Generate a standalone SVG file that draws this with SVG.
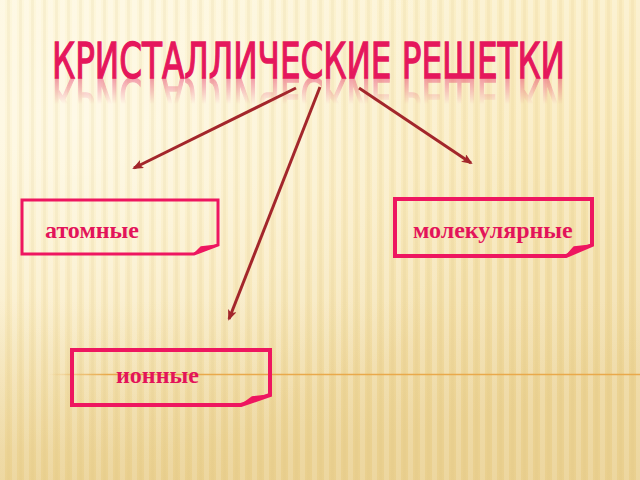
<svg xmlns="http://www.w3.org/2000/svg" width="640" height="480" viewBox="0 0 640 480">
  <style>
    .box { fill: none; stroke: #EE1660; stroke-linejoin: miter; }
    .fold { fill: #EE1660; stroke: #EE1660; stroke-width: 1.5; stroke-linejoin: round; }
    .label { font-family: "Liberation Serif", "Times New Roman", serif; font-weight: bold; font-size: 24px; fill: #E3145A; }
    .title { font-family: "DejaVu Sans Condensed", "DejaVu Sans", sans-serif; font-size: 50px; fill: #E5175C; stroke: #E5175C; stroke-width: 1.3; }
    .conn { stroke: #A3262B; stroke-width: 3; fill: none; marker-end: url(#arrow); }
  </style>
  <defs>
    <linearGradient id="bg" x1="0" y1="0" x2="0.3" y2="1">
      <stop offset="0" stop-color="#FCF3D0"/>
      <stop offset="0.5" stop-color="#F8E7B6"/>
      <stop offset="1" stop-color="#EDD597"/>
    </linearGradient>
    <radialGradient id="glow" cx="0.12" cy="0.25" r="0.7">
      <stop offset="0" stop-color="#FFFBEA" stop-opacity="0.7"/>
      <stop offset="1" stop-color="#FFFBEA" stop-opacity="0"/>
    </radialGradient>
    <linearGradient id="bottomShade" x1="0" y1="0" x2="0" y2="1">
      <stop offset="0" stop-color="#E3C57E" stop-opacity="0"/>
      <stop offset="1" stop-color="#E3C57E" stop-opacity="0.35"/>
    </linearGradient>
    <pattern id="stripes" width="12" height="480" patternUnits="userSpaceOnUse">
      <rect x="0" y="0" width="5" height="480" fill="#FFFFFF" opacity="0.25"/>
      <rect x="7" y="0" width="3" height="480" fill="#D9BE7A" opacity="0.12"/>
    </pattern>
    <linearGradient id="lineFade" x1="48" y1="0" x2="640" y2="0" gradientUnits="userSpaceOnUse">
      <stop offset="0" stop-color="#E9A94B" stop-opacity="0"/>
      <stop offset="0.1" stop-color="#E9A94B" stop-opacity="1"/>
      <stop offset="1" stop-color="#E9A94B" stop-opacity="1"/>
    </linearGradient>
    <linearGradient id="reflFade" x1="0" y1="78" x2="0" y2="104" gradientUnits="userSpaceOnUse">
      <stop offset="0" stop-color="#fff" stop-opacity="0.4"/>
      <stop offset="1" stop-color="#fff" stop-opacity="0"/>
    </linearGradient>
    <mask id="reflMask" maskUnits="userSpaceOnUse" x="0" y="70" width="640" height="40">
      <rect x="0" y="78" width="640" height="30" fill="url(#reflFade)"/>
    </mask>
    <marker id="arrow" markerWidth="11" markerHeight="9" refX="9" refY="4.5" orient="auto" markerUnits="userSpaceOnUse">
      <path d="M0,0 L11,4.5 L0,9 L2.5,4.5 Z" fill="#A3262B"/>
    </marker>
  </defs>

  <!-- background -->
  <rect x="0" y="0" width="640" height="480" fill="url(#bg)"/>
  <rect x="0" y="0" width="640" height="480" fill="url(#glow)"/>
  <rect x="0" y="0" width="640" height="480" fill="url(#stripes)"/>
  <rect x="0" y="300" width="640" height="180" fill="url(#bottomShade)"/>
  <line x1="48" y1="374.5" x2="640" y2="374.5" stroke="url(#lineFade)" stroke-width="1.3"/>

  <!-- title -->
  <g id="title">
    <text id="titleText" class="title" x="52" y="78" textLength="513" lengthAdjust="spacingAndGlyphs">КРИСТАЛЛИЧЕСКИЕ РЕШЕТКИ</text>
    <g mask="url(#reflMask)">
      <text class="title" x="52" y="78" textLength="513" lengthAdjust="spacingAndGlyphs" transform="translate(0,156) scale(1,-1)">КРИСТАЛЛИЧЕСКИЕ РЕШЕТКИ</text>
    </g>
  </g>

  <!-- connectors -->
  <g id="connectors">
    <line class="conn" x1="296" y1="88" x2="134" y2="168"/>
    <line class="conn" x1="320" y1="87" x2="229" y2="319"/>
    <line class="conn" x1="359" y1="88" x2="471" y2="163"/>
  </g>

  <!-- nodes -->
  <g id="node-atomic">
    <path class="box" stroke-width="3" d="M22,200 H218 V245 L194,254 H22 Z"/>
    <polygon class="fold" points="194,254 201,247 218,245"/>
    <text class="label" x="45" y="238">атомные</text>
  </g>
  <g id="node-molecular">
    <path class="box" stroke-width="4" d="M395,199 H592 V245 L566,256 H395 Z"/>
    <polygon class="fold" points="566,256 574,247 592,245"/>
    <text class="label" x="413" y="238">молекулярные</text>
  </g>
  <g id="node-ionic">
    <path class="box" stroke-width="4" d="M72,350 H270 V395 L241,405 H72 Z"/>
    <polygon class="fold" points="241,405 252,397 270,395"/>
    <text class="label" x="116" y="383">ионные</text>
  </g>
</svg>
